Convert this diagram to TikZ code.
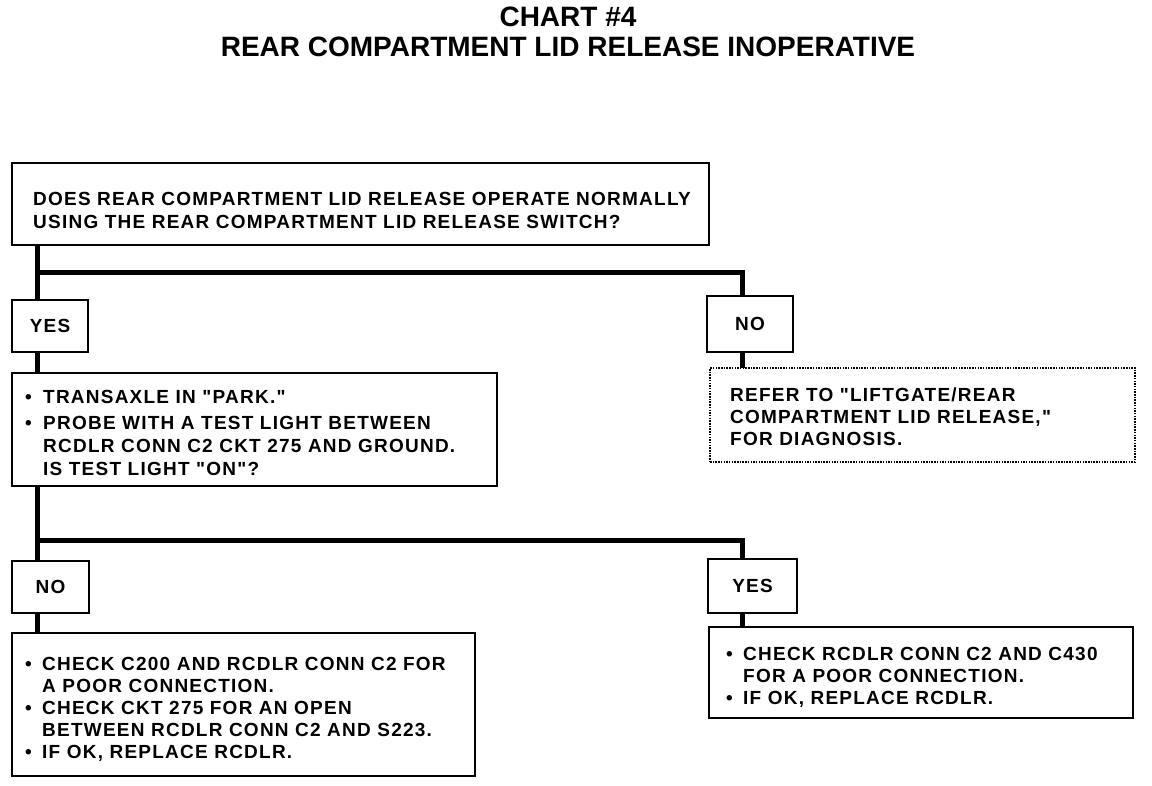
\documentclass[tikz,border=0pt]{standalone}
\usepackage{fontspec}
\setmainfont{Liberation Sans}
\newfontfamily\bodyfont{Liberation Sans}[LetterSpace=6.5]
\newfontfamily\titlefont{Liberation Sans}
\begin{document}
\begin{tikzpicture}[x=1pt,y=-1pt,
  box/.style={draw, line width=1.8pt, anchor=north west, inner sep=0pt, outer sep=0pt},
  dotbox/.style={draw, line width=1.3pt, dash pattern=on 1.5pt off 1.2pt, anchor=north west, inner sep=0pt, outer sep=0pt},
  conn/.style={line width=5pt, line join=miter},
  txt/.style={anchor=base west, inner sep=0pt, font=\bodyfont\bfseries\fontsize{19}{22}\selectfont},
  lbl/.style={inner sep=0pt, font=\bodyfont\bfseries\fontsize{19}{22}\selectfont},
  ttl/.style={anchor=base, inner sep=0pt, font=\titlefont\bfseries\fontsize{28}{32}\selectfont}]
\useasboundingbox (0,0) rectangle (1152,786);
\fill[white] (0,0) rectangle (1152,786);

% title
\node[ttl] (title1) at (568,27) {CHART \#4};
\node[ttl] (title2) at (568,57) {REAR COMPARTMENT LID RELEASE INOPERATIVE};

% boxes
\node[box, minimum width=697pt, minimum height=82pt] (box1) at (12,163) {};
\node[box, minimum width=76pt, minimum height=52pt] (yes1) at (12,300) {};
\node[box, minimum width=86pt, minimum height=56pt] (no1) at (707,296) {};
\node[box, minimum width=485pt, minimum height=113pt] (box2) at (12,373) {};
\node[dotbox, minimum width=425pt, minimum height=94pt] (refer) at (710,368) {};
\node[box, minimum width=77pt, minimum height=52pt] (no2) at (12,561) {};
\node[box, minimum width=89pt, minimum height=54pt] (yes2) at (708,559) {};
\node[box, minimum width=463pt, minimum height=143pt] (box3) at (12,633) {};
\node[box, minimum width=424pt, minimum height=91pt] (box4) at (709,627) {};

% junction coordinates
\coordinate (jl1) at (37,273);
\coordinate (jr1) at (742,273);
\coordinate (jl2) at (37,540);
\coordinate (jr2) at (742,540);

% connectors
\draw[conn] (box1.south -| jl1) -- (yes1.north -| jl1);
\draw[conn] (jl1) -- (jr1) -- (no1.north -| jr1);
\draw[conn] (yes1.south -| jl1) -- (box2.north -| jl1);
\draw[conn] (no1.south -| jr1) -- (refer.north -| jr1);
\draw[conn] (box2.south -| jl2) -- (no2.north -| jl2);
\draw[conn] (jl2) -- (jr2) -- (yes2.north -| jr2);
\draw[conn] (no2.south -| jl2) -- (box3.north -| jl2);
\draw[conn] (yes2.south -| jr2) -- (box4.north -| jr2);

% labels
\node[lbl] (yes1t) at (yes1.center) {YES};
\node[lbl] (no1t) at (no1.center) {NO};
\node[lbl] (no2t) at (no2.center) {NO};
\node[lbl] (yes2t) at (yes2.center) {YES};

% box1 text
\node[txt] (b1a) at (33,206) {DOES REAR COMPARTMENT LID RELEASE OPERATE NORMALLY};
\node[txt] (b1b) at (33,229) {USING THE REAR COMPARTMENT LID RELEASE SWITCH?};

% box2 text
\node[txt] (b2u1) at (25,403) {•};
\node[txt] (b2a) at (43,403) {TRANSAXLE IN "PARK."};
\node[txt] (b2u2) at (25,429) {•};
\node[txt] (b2b) at (43,429) {PROBE WITH A TEST LIGHT BETWEEN};
\node[txt] (b2c) at (43,452) {RCDLR CONN C2 CKT 275 AND GROUND.};
\node[txt] (b2d) at (43,475) {IS TEST LIGHT "ON"?};

% refer text
\node[txt] (ra) at (730,402) {REFER TO "LIFTGATE/REAR};
\node[txt] (rb) at (730,424) {COMPARTMENT LID RELEASE,"};
\node[txt] (rc) at (730,446) {FOR DIAGNOSIS.};

% box3 text
\node[txt] (b3u1) at (25,670) {•};
\node[txt] (b3a) at (42,670) {CHECK C200 AND RCDLR CONN C2 FOR};
\node[txt] (b3b) at (42,692) {A POOR CONNECTION.};
\node[txt] (b3u2) at (25,714) {•};
\node[txt] (b3c) at (42,714) {CHECK CKT 275 FOR AN OPEN};
\node[txt] (b3d) at (42,736) {BETWEEN RCDLR CONN C2 AND S223.};
\node[txt] (b3u3) at (25,758) {•};
\node[txt] (b3e) at (42,758) {IF OK, REPLACE RCDLR.};

% box4 text
\node[txt] (b4u1) at (726,660) {•};
\node[txt] (b4a) at (743,660) {CHECK RCDLR CONN C2 AND C430};
\node[txt] (b4b) at (743,682) {FOR A POOR CONNECTION.};
\node[txt] (b4u2) at (726,704) {•};
\node[txt] (b4c) at (743,704) {IF OK, REPLACE RCDLR.};
\end{tikzpicture}
\end{document}
